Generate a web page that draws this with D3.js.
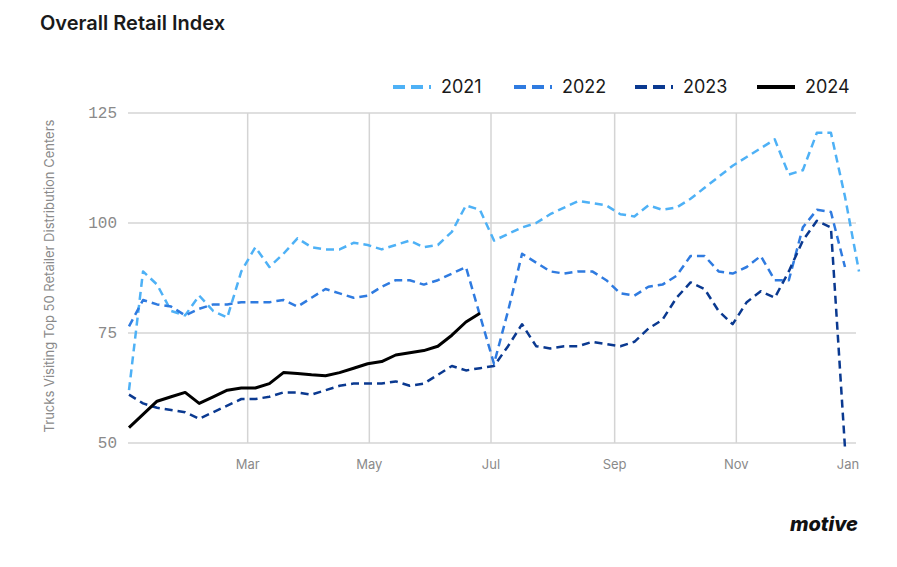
<!DOCTYPE html>
<html>
<head>
<meta charset="utf-8">
<script src="https://cdn.jsdelivr.net/npm/d3@7"></script>
<style>
  body { margin: 0; background: #fff; }
  text { font-family: "Inter", "Noto Sans", sans-serif; }
</style>
</head>
<body>
<svg id="chart" width="897" height="567"></svg>
<script>
// weekly values, index = week of year
var series2021 = [62,89,86,80,79,83.5,80,78.5,89,94.5,90,93,96.5,94.5,94,94,95.5,95,94,95,96,94.5,95,98,104,103,96,97.5,99,100,102,103.5,105,104.5,104,102,101.5,104,103,103.5,105.5,108,110.5,113,115,117,119,111,112,120.5,120.5,106,89];
var series2022 = [76.5,82.5,81.5,81,79,80.5,81.5,81.5,82,82,82,82.5,81,83,85,84,83,83.5,85.5,87,87,86,87,88.5,90,79,68,80,93,91,89,88.5,89,89,87,84,83.5,85.5,86,88,92.5,92.5,89,88.5,90,92.5,87,87,99,103,102.5,90];
var series2023 = [61,59,58,57.5,57,55.5,57,58.5,60,60,60.5,61.5,61.5,61,62,63,63.5,63.5,63.5,64,63,63.5,65.5,67.5,66.5,67,67.5,72,77,72,71.5,72,72,73,72.5,72,73,76,78,83,86.5,85,80,77,82,84.5,83,89,96,100.5,99,49];
var series2024 = [53.5,56.5,59.5,60.5,61.5,59,60.5,62,62.5,62.5,63.5,66,65.8,65.5,65.3,66,67,68,68.5,70,70.5,71,72,74.5,77.5,79.5];
var yTicks = [50, 75, 100, 125];
var monthTicks = ["Mar", "May", "Jul", "Sep", "Nov", "Jan"];

var svg = d3.select("#chart");
var x = d3.scaleTime()
  .domain([new Date(2024, 0, 1), new Date(2024, 11, 31)])
  .range([128, 856]);
var xw = d3.scaleLinear().domain([0, 52]).range([129, 859]);
var y = d3.scaleLinear().domain([50, 125]).range([443, 113]);

var tickDates = [new Date(2024,2,1), new Date(2024,4,1), new Date(2024,6,1), new Date(2024,8,1), new Date(2024,10,1), new Date(2024,11,31)];

// grid
svg.append("g").selectAll("line").data(yTicks).enter().append("line")
  .attr("x1", 128).attr("x2", 856)
  .attr("y1", function(d){ return y(d); }).attr("y2", function(d){ return y(d); })
  .attr("stroke", "#d4d4d4").attr("stroke-width", 1.5);
svg.append("g").selectAll("line").data(tickDates.slice(0, 5)).enter().append("line")
  .attr("x1", function(d){ return x(d); }).attr("x2", function(d){ return x(d); })
  .attr("y1", 113).attr("y2", 443)
  .attr("stroke", "#d4d4d4").attr("stroke-width", 1.5);

var monoFont = "'Liberation Mono', monospace";
svg.append("g").selectAll("text").data(yTicks).enter().append("text")
  .attr("x", 117).attr("y", function(d){ return y(d) + 5; })
  .attr("text-anchor", "end").attr("fill", "#8a8a8a")
  .style("font-family", monoFont).style("font-size", "16px")
  .text(function(d){ return d; });
svg.append("g").selectAll("text").data(tickDates).enter().append("text")
  .attr("x", function(d, i){ return i === 5 ? 848 : x(d); }).attr("y", 469)
  .attr("text-anchor", "middle").attr("fill", "#8a8a8a")
  .style("font-size", "13px")
  .text(function(d, i){ return monthTicks[i]; });

svg.append("text")
  .attr("transform", "translate(54,276) rotate(-90)")
  .attr("text-anchor", "middle").attr("fill", "#8a8a8a")
  .style("font-size", "13px")
  .text("Trucks Visiting Top 50 Retailer Distribution Centers");

svg.append("text").attr("x", 40).attr("y", 30)
  .style("font-size", "20px").style("font-weight", "600").attr("fill", "#1a1a1a")
  .text("Overall Retail Index");

var line = d3.line()
  .x(function(d, i){ return xw(i); })
  .y(function(d){ return y(d); });

var defs = [
  { key: "2021", data: series2021, color: "#4eb1f6", dash: "8,5", w: 2.5 },
  { key: "2022", data: series2022, color: "#2f7be0", dash: "8,5", w: 2.5 },
  { key: "2023", data: series2023, color: "#0a3990", dash: "8,5", w: 2.5 },
  { key: "2024", data: series2024, color: "#000000", dash: null, w: 3 }
];

defs.forEach(function(s) {
  svg.append("path").datum(s.data)
    .attr("d", line).attr("fill", "none")
    .attr("stroke", s.color).attr("stroke-width", s.w)
    .attr("stroke-linejoin", "round")
    .attr("stroke-dasharray", s.dash);
});

var legX = [393, 514, 635, 757];
defs.forEach(function(s, i) {
  svg.append("line")
    .attr("x1", legX[i]).attr("x2", legX[i] + 38).attr("y1", 87).attr("y2", 87)
    .attr("stroke", s.color).attr("stroke-width", 4)
    .attr("stroke-dasharray", s.dash ? "12,6" : null);
  svg.append("text").attr("x", legX[i] + 48).attr("y", 93)
    .style("font-size", "18px").attr("fill", "#1a1a1a").text(s.key);
});

svg.append("text").attr("x", 858).attr("y", 531).attr("text-anchor", "end")
  .style("font-size", "20px").style("font-weight", "800").style("font-style", "italic")
  .attr("fill", "#111").text("motive");
</script>
</body>
</html>
